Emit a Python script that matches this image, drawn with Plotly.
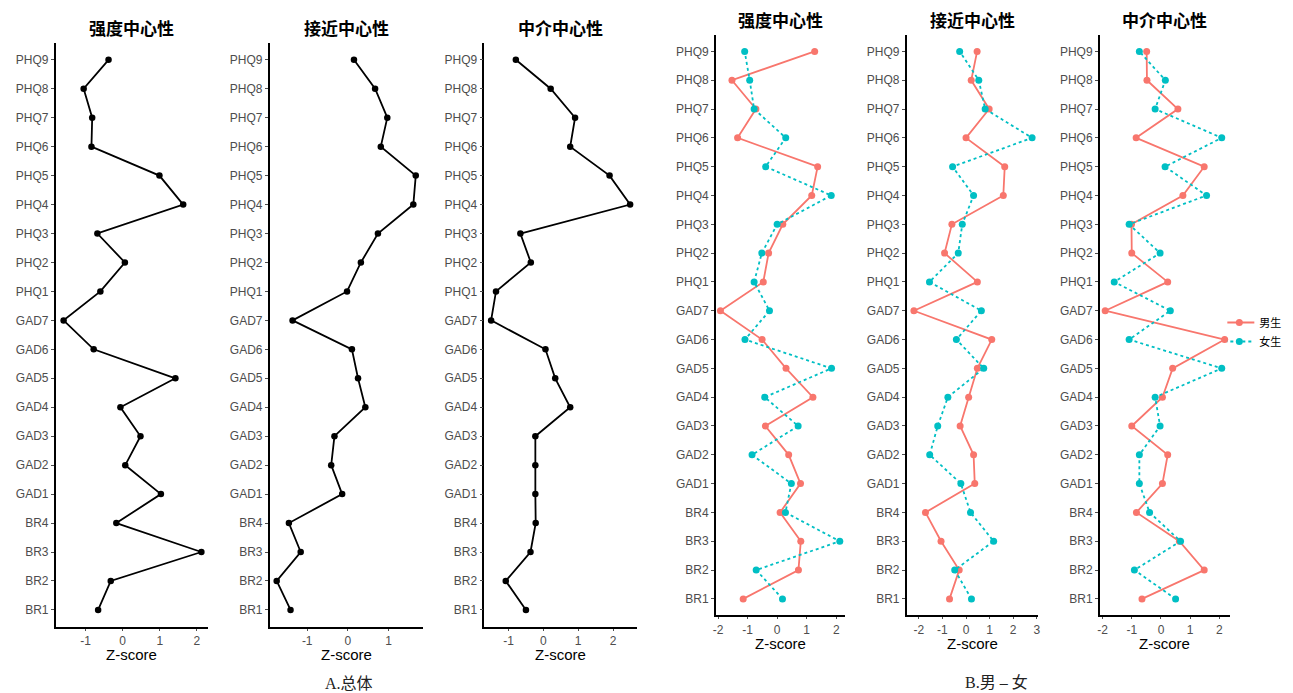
import plotly.graph_objects as go

nodes = ["BR1", "BR2", "BR3", "BR4", "GAD1", "GAD2", "GAD3", "GAD4", "GAD5", "GAD6", "GAD7",
         "PHQ1", "PHQ2", "PHQ3", "PHQ4", "PHQ5", "PHQ6", "PHQ7", "PHQ8", "PHQ9"]

panel_titles = ["强度中心性", "接近中心性", "中介中心性"]
group_names = ["男生", "女生"]

# Overall (A)
all_strength = [-0.66, -0.32, 2.12, -0.17, 1.03, 0.07, 0.48, -0.06, 1.42, -0.78, -1.59,
                -0.60, 0.06, -0.68, 1.63, 0.99, -0.84, -0.82, -1.05, -0.38]
all_closeness = [-1.41, -1.75, -1.16, -1.45, -0.14, -0.41, -0.33, 0.43, 0.25, 0.10, -1.36,
                 -0.02, 0.32, 0.74, 1.61, 1.67, 0.81, 0.97, 0.67, 0.15]
all_betweenness = [-0.50, -1.08, -0.37, -0.22, -0.23, -0.23, -0.23, 0.77, 0.34, 0.06, -1.50,
                   -1.36, -0.36, -0.66, 2.49, 1.90, 0.77, 0.91, 0.21, -0.79]

# Male / female (B)
male_strength = [-1.15, 0.72, 0.80, 0.10, 0.79, 0.39, -0.40, 1.21, 0.30, -0.51, -1.92,
                 -0.47, -0.29, 0.19, 1.17, 1.37, -1.34, -0.72, -1.53, 1.27]
female_strength = [0.18, -0.71, 2.12, 0.28, 0.48, -0.85, 0.71, -0.42, 1.84, -1.09, -0.26,
                   -0.78, -0.52, 0.00, 1.83, -0.39, 0.29, -0.78, -0.93, -1.10]
male_closeness = [-0.70, -0.29, -1.06, -1.72, 0.37, 0.32, -0.25, 0.11, 0.48, 1.09, -2.21,
                  0.48, -0.91, -0.60, 1.58, 1.64, 0.00, 0.98, 0.22, 0.47]
female_closeness = [0.23, -0.48, 1.17, 0.19, -0.22, -1.54, -1.20, -0.77, 0.75, -0.41, 0.65,
                    -1.55, -0.33, -0.16, 0.32, -0.57, 2.80, 0.81, 0.54, -0.27]
male_betweenness = [-0.65, 1.48, 0.63, -0.84, 0.05, 0.23, -1.00, 0.05, 0.40, 2.18, -1.91,
                    0.23, -1.00, -1.01, 0.75, 1.48, -0.85, 0.58, -0.48, -0.49]
female_betweenness = [0.50, -0.91, 0.67, -0.39, -0.74, -0.74, -0.03, -0.20, 2.08, -1.09, 0.32,
                      -1.60, -0.03, -1.09, 1.56, 0.14, 2.08, -0.20, 0.15, -0.74]

A_ticks = [[-1, 0, 1, 2], [-1, 0, 1], [-1, 0, 1, 2]]
B_ticks = [[-2, -1, 0, 1, 2], [-2, -1, 0, 1, 2, 3], [-2, -1, 0, 1, 2]]

W, H = 1293, 693
MALE_C = "#F8766D"
FEMALE_C = "#00BFC4"
TICK_C = "#4d4d4d"
SANS = "Liberation Sans, Arial, sans-serif"
CJK = "Noto Sans CJK SC, sans-serif"

# panel geometry in pixels: (left, right, top, bottom, xrange)
panels = [
    (45, 198, 35, 619, [-1.80, 2.30]),
    (260, 414, 35, 619, [-1.92, 1.85]),
    (475.7, 629, 35, 619, [-1.69, 2.69]),
    (708.3, 838.3, 26.7, 607.3, [-2.07, 2.31]),
    (900, 1031.3, 26.7, 607.3, [-2.51, 3.03]),
    (1094, 1224.3, 26.7, 607.3, [-2.09, 2.35]),
]
yranges = [[-0.59, 19.58]] * 3 + [[-0.57, 19.58]] * 3

fig = go.Figure()

A_data = [all_strength, all_closeness, all_betweenness]
B_data = [(male_strength, female_strength), (male_closeness, female_closeness),
          (male_betweenness, female_betweenness)]

for i in range(3):
    ax = "" if i == 0 else str(i + 1)
    fig.add_trace(go.Scatter(
        x=A_data[i], y=nodes, mode="lines+markers", xaxis="x" + ax, yaxis="y" + ax,
        line=dict(color="black", width=1.8), marker=dict(color="black", size=6.5),
        showlegend=False, hoverinfo="x+y"))

for i in range(3):
    ax = str(i + 4)
    m, f = B_data[i]
    fig.add_trace(go.Scatter(
        x=m, y=nodes, mode="lines+markers", xaxis="x" + ax, yaxis="y" + ax,
        line=dict(color=MALE_C, width=1.8), marker=dict(color=MALE_C, size=7),
        name=group_names[0], legendgroup="m", showlegend=(i == 0)))
    fig.add_trace(go.Scatter(
        x=f, y=nodes, mode="lines+markers", xaxis="x" + ax, yaxis="y" + ax,
        line=dict(color=FEMALE_C, width=1.8, dash="dot"), marker=dict(color=FEMALE_C, size=7),
        name=group_names[1], legendgroup="f", showlegend=(i == 0)))

layout = {}
annotations = []
for i, (l, r, t, b, xr) in enumerate(panels):
    ax = "" if i == 0 else str(i + 1)
    xname = "xaxis" + ax
    yname = "yaxis" + ax
    ticks = A_ticks[i] if i < 3 else B_ticks[i - 3]
    layout[xname] = dict(
        domain=[l / W, r / W], anchor="y" + ax, range=xr,
        tickmode="array", tickvals=ticks, ticktext=[str(v) for v in ticks],
        showline=True, linecolor="black", linewidth=1.8, mirror=False,
        ticks="outside", ticklen=2, tickcolor=TICK_C, tickwidth=1,
        tickfont=dict(family=SANS, size=12, color=TICK_C),
        showgrid=False, zeroline=False, fixedrange=True)
    layout[yname] = dict(
        domain=[1 - b / H, 1 - t / H], anchor="x" + ax, range=yranges[i],
        type="category", categoryorder="array", categoryarray=nodes,
        showline=True, linecolor="black", linewidth=1.8,
        ticks="outside", ticklen=3, tickcolor=TICK_C, tickwidth=1,
        tickfont=dict(family=SANS, size=12, color=TICK_C),
        showgrid=False, zeroline=False, fixedrange=True)
    # panel title
    title_y = 19 if i < 3 else 12
    annotations.append(dict(
        text="<b>" + panel_titles[i % 3] + "</b>", x=(l + r) / 2 / W, y=1 - title_y / H,
        xref="paper", yref="paper", showarrow=False, xanchor="center", yanchor="middle",
        font=dict(family=CJK, size=17, color="black")))
    # x axis title
    xt_y = 646 if i < 3 else 635
    annotations.append(dict(
        text="Z-score", x=(l + r) / 2 / W, y=1 - xt_y / H,
        xref="paper", yref="paper", showarrow=False, xanchor="center", yanchor="middle",
        font=dict(family=SANS, size=15, color="black")))

annotations.append(dict(
    text="A.总体", x=340 / W, y=1 - 675 / H, xref="paper", yref="paper", showarrow=False,
    xanchor="center", yanchor="middle",
    font=dict(family="Liberation Serif, Noto Sans CJK SC, serif", size=16, color="#222")))
annotations.append(dict(
    text="B.男 – 女", x=990 / W, y=1 - 674 / H, xref="paper", yref="paper", showarrow=False,
    xanchor="center", yanchor="middle",
    font=dict(family="Liberation Serif, Noto Sans CJK SC, serif", size=16, color="#222")))

fig.update_layout(
    width=W, height=H, margin=dict(l=0, r=0, t=0, b=0),
    paper_bgcolor="white", plot_bgcolor="white",
    annotations=annotations,
    legend=dict(x=1222 / W, y=1 - 300 / H, xanchor="left", yanchor="top",
                font=dict(family=CJK, size=11, color="black"),
                bgcolor="rgba(0,0,0,0)", itemwidth=30, tracegroupgap=0,
                indentation=-8),
    **layout)

fig.write_html("out.html")
